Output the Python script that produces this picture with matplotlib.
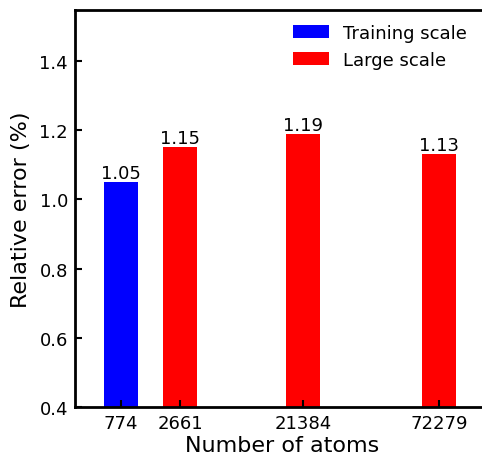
import numpy as np
from matplotlib import pyplot as plt

# data
atoms = ['774', '2661', '21384', '72279']
rel_error = [1.05, 1.15, 1.19, 1.13]
positions = [0, 1, 3.08, 5.39]
colors = ['blue', 'red', 'red', 'red']
groups = ['Training scale', 'Large scale', 'Large scale', 'Large scale']

fig = plt.figure(figsize=(4.82, 4.56), dpi=100)
# axes runs past the right edge of the figure, like the cropped original
ax = fig.add_axes([75/482, 48/456, 415/482, 397/456])

bars = ax.bar(positions, rel_error, width=0.576, color=colors)
for b, g in zip(bars, groups):
    b.set_label(g)
for p, v in zip(positions, rel_error):
    ax.text(p, v, f'{v:.2f}', ha='center', va='bottom', fontsize=13)

ax.set_xlim(-0.78, 6.25)
ax.set_ylim(0.4, 1.547)
ax.set_xticks(positions)
ax.set_xticklabels(atoms)
ax.set_yticks(np.arange(0.4, 1.41, 0.2))
ax.tick_params(direction='in', length=5, width=1.5, labelsize=13, pad=5)
for s in ax.spines.values():
    s.set_linewidth(2)

ax.set_xlabel('Number of atoms', fontsize=16, labelpad=2)
ax.set_ylabel('Relative error (%)', fontsize=16, labelpad=6)

handles, labels = ax.get_legend_handles_labels()
uniq = dict(zip(labels, handles))
ax.legend([uniq['Training scale'], uniq['Large scale']], ['Training scale', 'Large scale'],
          loc='upper left', bbox_to_anchor=(0.485, 1.006), frameon=False, fontsize=13)

plt.savefig('out.png', dpi=100)
